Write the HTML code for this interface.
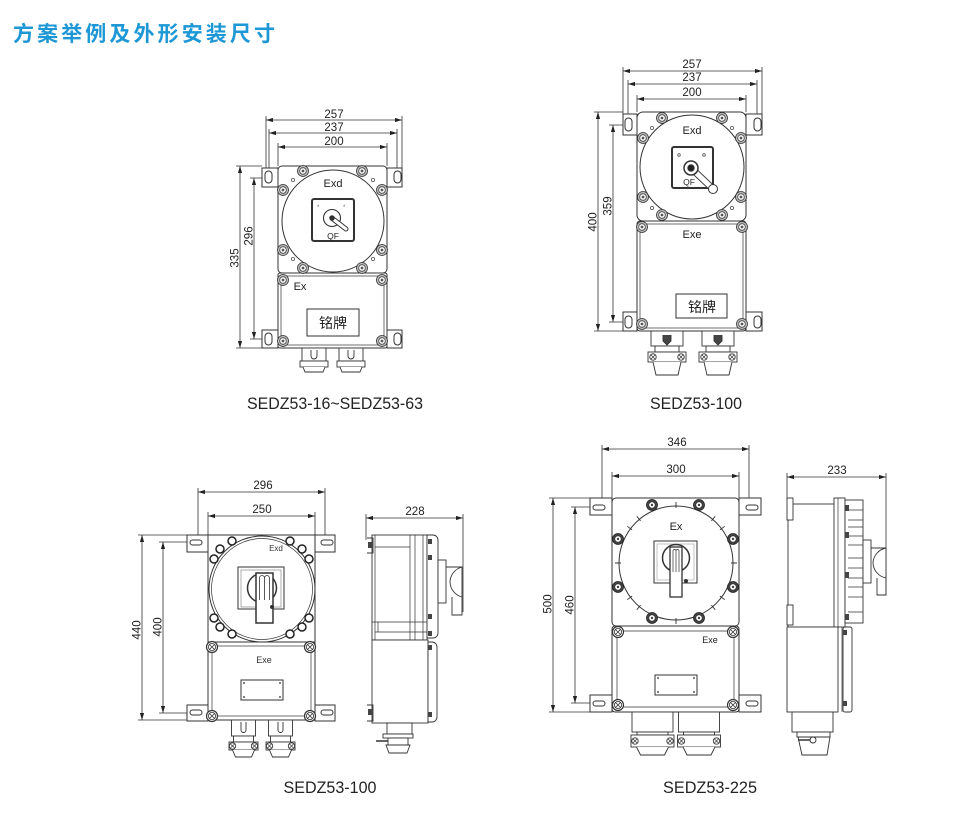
<!DOCTYPE html>
<html><head><meta charset="utf-8">
<style>
html,body{margin:0;padding:0;background:#fff;}
svg{display:block;}
</style></head><body>
<svg width="977" height="821" viewBox="0 0 977 821" xmlns="http://www.w3.org/2000/svg" font-family="'Liberation Sans', Arial, sans-serif">
<defs>
<marker id="ar" viewBox="0 0 10 6" refX="10" refY="3" markerWidth="7" markerHeight="4.2" markerUnits="userSpaceOnUse" orient="auto-start-reverse"><path d="M0,0L10,3L0,6z" fill="#222"/></marker>
<g id="b1"><circle r="5.5" fill="#bdbdbd" stroke="#333" stroke-width="0.8"/><circle r="3.3" fill="#fff" stroke="#444" stroke-width="0.8"/><circle r="1.4" fill="#555"/></g>
<g id="b2"><circle r="4" fill="#fff" stroke="#222" stroke-width="1.5"/></g>
<g id="b3"><circle r="5.5" fill="#fff" stroke="#333" stroke-width="1.2"/><circle r="3.6" fill="#fff" stroke="#333" stroke-width="0.8"/><path d="M-2.5,-2.5L2.5,2.5M-2.5,2.5L2.5,-2.5" stroke="#333" stroke-width="0.8"/></g>
<g id="b4"><circle r="5.5" fill="#444" stroke="#222" stroke-width="0.8"/><circle r="3.2" fill="#fff" stroke="#222" stroke-width="0.6"/><circle r="1.2" fill="#444"/></g>
<g id="sc"><circle r="3.2" fill="#fff" stroke="#333" stroke-width="0.9"/><path d="M-2,-2L2,2M-2,2L2,-2" stroke="#333" stroke-width="0.7"/></g>
<g id="g1" fill="#fff" stroke="#333" stroke-width="0.9">
 <rect x="-12" y="0" width="24" height="13"/>
 <path d="M-3,2v6a3,3 0 0 0 6,0v-6"/>
 <rect x="-14" y="13" width="28" height="6"/>
 <path d="M-11,19L-9,24H9L11,19"/>
</g>
<g id="g2" fill="#fff" stroke="#333" stroke-width="0.9">
 <rect x="-16" y="0" width="32" height="15"/>
 <path d="M-4,4v6l4,4l4,-4v-6" fill="#444"/>
 <rect x="-12" y="15" width="24" height="6"/>
 <rect x="-19" y="21" width="38" height="10"/>
 <path d="M-14,31L-11,44H11L14,31"/>
</g>
<g id="g3" fill="#fff" stroke="#333" stroke-width="0.9">
 <rect x="-12" y="0" width="24" height="16"/>
 <path d="M-2.5,2v8a2.5,2.5 0 0 0 5,0v-8"/>
 <rect x="-10" y="16" width="20" height="6"/>
 <rect x="-14.5" y="22" width="29" height="8"/>
 <path d="M-11,30L-8,37H8L11,30"/>
</g>
<g id="g5" fill="#fff" stroke="#333" stroke-width="0.9">
 <rect x="-20.5" y="0" width="41" height="20"/>
 <rect x="-15.5" y="20" width="31" height="3"/>
 <rect x="-21.5" y="23" width="43" height="12"/>
 <path d="M-16,35L-12,43H12L16,35"/>
</g>
</defs>

<!-- Title -->
<text x="13" y="41" font-family="'Liberation Sans','Noto Sans CJK SC',sans-serif" font-weight="bold" font-size="21" fill="#1d97d5" textLength="262" lengthAdjust="spacing">方案举例及外形安装尺寸</text>

<!-- ================= D1 ================= -->
<g stroke="#333" stroke-width="0.8" fill="none">
 <path d="M266,116V176M402,116V176M269,129V172M397,129V172M278,143V166M387,143V166"/>
 <path d="M236,166H262M236,348H278M250,178H266M250,339H266"/>
 <line x1="266" y1="120" x2="402" y2="120" marker-start="url(#ar)" marker-end="url(#ar)"/>
 <line x1="269" y1="133" x2="397" y2="133" marker-start="url(#ar)" marker-end="url(#ar)"/>
 <line x1="278" y1="147" x2="387" y2="147" marker-start="url(#ar)" marker-end="url(#ar)"/>
 <line x1="240" y1="166" x2="240" y2="348" marker-start="url(#ar)" marker-end="url(#ar)"/>
 <line x1="254" y1="178" x2="254" y2="339" marker-start="url(#ar)" marker-end="url(#ar)"/>
</g>
<g font-size="11.5" fill="#222" text-anchor="middle">
 <text x="334" y="118">257</text>
 <text x="334" y="131">237</text>
 <text x="334" y="145">200</text>
 <text transform="translate(238.5,258) rotate(-90)">335</text>
 <text transform="translate(252.5,236) rotate(-90)">296</text>
</g>
<g stroke="#333" stroke-width="1" fill="#fff">
 <rect x="262" y="168" width="16" height="19"/>
 <rect x="387" y="168" width="15" height="19"/>
 <rect x="262" y="330" width="16" height="18"/>
 <rect x="387" y="330" width="15" height="18"/>
 <rect x="265" y="171" width="7" height="12" rx="3.5"/>
 <rect x="394" y="171" width="7" height="12" rx="3.5"/>
 <rect x="265" y="333" width="7" height="12" rx="3.5"/>
 <rect x="394" y="333" width="7" height="12" rx="3.5"/>
 <rect x="278" y="166" width="109" height="107" rx="4"/>
 <rect x="278" y="273" width="109" height="75" rx="2"/>
 <rect x="281" y="276" width="103" height="69" stroke-width="0.7"/>
 <circle cx="333" cy="221" r="51"/>
 <rect x="312" y="199" width="42" height="42" rx="2" stroke-width="2"/>
 <rect x="307" y="309" width="52" height="27"/>
</g>
<g>
 <use href="#b1" x="303" y="171"/><use href="#b1" x="362" y="171"/>
 <use href="#b1" x="283" y="190"/><use href="#b1" x="382" y="190"/>
 <use href="#b1" x="283" y="250"/><use href="#b1" x="382" y="250"/>
 <use href="#b1" x="303" y="268"/><use href="#b1" x="362" y="268"/>
 <use href="#b1" x="283" y="280"/><use href="#b1" x="382" y="280"/>
 <use href="#b1" x="283" y="341"/><use href="#b1" x="382" y="341"/>
</g>
<g fill="#fff" stroke="#555" stroke-width="0.8">
 <circle cx="293" cy="180" r="1.6"/><circle cx="373" cy="180" r="1.6"/>
 <circle cx="293" cy="259" r="1.6"/><circle cx="373" cy="259" r="1.6"/>
</g>
<g fill="#fff" stroke="#333" stroke-width="1.1">
 <circle cx="332" cy="218" r="8.5"/>
 <line x1="333" y1="219" x2="346" y2="229" stroke-width="5" stroke-linecap="round"/>
 <line x1="333" y1="219" x2="346" y2="229" stroke="#fff" stroke-width="3" stroke-linecap="round"/>
 <circle cx="332" cy="218" r="2.2" fill="#333"/>
</g>
<g fill="#666" font-size="6"><text x="317" y="209">*</text><text x="343" y="209">*</text></g>
<g fill="#222" text-anchor="middle">
 <text x="333" y="239" font-size="8.5">QF</text>
 <text x="333" y="187" font-size="11">Exd</text>
 <text x="300" y="290" font-size="11">Ex</text>
 <text x="333" y="328" font-size="14" font-family="'Liberation Sans','Noto Sans CJK SC',sans-serif">铭牌</text>
</g>
<use href="#g1" x="314" y="348"/><use href="#g1" x="351" y="348"/>
<text x="335" y="409" font-size="17" fill="#222" text-anchor="middle" textLength="176" lengthAdjust="spacingAndGlyphs">SEDZ53-16~SEDZ53-63</text>

<!-- ================= D2 ================= -->
<g stroke="#333" stroke-width="0.8" fill="none">
 <path d="M623,67V114M762,67V114M628,80V118M757,80V118M637,95V112M746,95V112"/>
 <path d="M594,112H623M594,331H637M609,125H625M609,322H625"/>
 <line x1="623" y1="71" x2="762" y2="71" marker-start="url(#ar)" marker-end="url(#ar)"/>
 <line x1="628" y1="84" x2="757" y2="84" marker-start="url(#ar)" marker-end="url(#ar)"/>
 <line x1="637" y1="99" x2="746" y2="99" marker-start="url(#ar)" marker-end="url(#ar)"/>
 <line x1="598" y1="112" x2="598" y2="331" marker-start="url(#ar)" marker-end="url(#ar)"/>
 <line x1="613" y1="125" x2="613" y2="322" marker-start="url(#ar)" marker-end="url(#ar)"/>
</g>
<g font-size="11.5" fill="#222" text-anchor="middle">
 <text x="692" y="68">257</text>
 <text x="692" y="81">237</text>
 <text x="692" y="96">200</text>
 <text transform="translate(596.5,222) rotate(-90)">400</text>
 <text transform="translate(611.5,206) rotate(-90)">359</text>
</g>
<g stroke="#333" stroke-width="1" fill="#fff">
 <rect x="623" y="114" width="14" height="21"/>
 <rect x="746" y="114" width="16" height="21"/>
 <rect x="623" y="312" width="14" height="19"/>
 <rect x="746" y="312" width="16" height="19"/>
 <rect x="625" y="118" width="7" height="13" rx="3.5"/>
 <rect x="754" y="118" width="7" height="13" rx="3.5"/>
 <rect x="625" y="316" width="7" height="12" rx="3.5"/>
 <rect x="754" y="316" width="7" height="12" rx="3.5"/>
 <rect x="637" y="112" width="109" height="109" rx="6"/>
 <rect x="637" y="221" width="109" height="110" rx="3"/>
 <rect x="640" y="224" width="103" height="104" stroke-width="0.7"/>
 <circle cx="692" cy="167" r="52"/>
 <rect x="672" y="147" width="41" height="41" rx="2" stroke-width="2"/>
 <rect x="676" y="294" width="51" height="24"/>
</g>
<g>
 <use href="#b1" x="662" y="118"/><use href="#b1" x="722" y="118"/>
 <use href="#b1" x="643" y="138"/><use href="#b1" x="741" y="138"/>
 <use href="#b1" x="643" y="197"/><use href="#b1" x="741" y="197"/>
 <use href="#b1" x="662" y="215"/><use href="#b1" x="722" y="215"/>
 <use href="#b1" x="642" y="227"/><use href="#b1" x="742" y="227"/>
 <use href="#b1" x="642" y="324"/><use href="#b1" x="742" y="324"/>
</g>
<g fill="#fff" stroke="#555" stroke-width="0.8">
 <circle cx="652" cy="128" r="1.6"/><circle cx="732" cy="128" r="1.6"/>
 <circle cx="652" cy="208" r="1.6"/><circle cx="732" cy="208" r="1.6"/>
 <circle cx="679" cy="155" r="1.3"/><circle cx="704" cy="155" r="1.3"/>
</g>
<g stroke="#333">
 <line x1="692" y1="169" x2="711" y2="187" stroke-width="7" stroke-linecap="round"/>
 <line x1="692" y1="169" x2="711" y2="187" stroke="#fff" stroke-width="5" stroke-linecap="round"/>
 <circle cx="713" cy="189" r="4.5" fill="#fff" stroke-width="1"/>
 <circle cx="691" cy="168" r="7" fill="#fff" stroke-width="1.5"/>
 <circle cx="691" cy="168" r="3.2" fill="#222"/>
</g>
<g fill="#222" text-anchor="middle">
 <text x="689" y="185" font-size="8.5">QF</text>
 <text x="692" y="134" font-size="11">Exd</text>
 <text x="692" y="238" font-size="11">Exe</text>
 <text x="702" y="312" font-size="14" font-family="'Liberation Sans','Noto Sans CJK SC',sans-serif">铭牌</text>
</g>
<use href="#g2" x="667" y="331"/><use href="#g2" x="718" y="331"/>
<use href="#sc" x="653" y="357"/><use href="#sc" x="681" y="357"/>
<use href="#sc" x="704" y="357"/><use href="#sc" x="732" y="357"/>
<text x="696" y="409" font-size="17" fill="#222" text-anchor="middle" textLength="92" lengthAdjust="spacingAndGlyphs">SEDZ53-100</text>

<!-- ================= D3 ================= -->
<g stroke="#333" stroke-width="0.8" fill="none">
 <path d="M198,488V543M325,488V543M208,512V535M315,512V535"/>
 <path d="M138,535H187M138,720H208M159,542H192M159,713H192"/>
 <line x1="198" y1="492" x2="325" y2="492" marker-start="url(#ar)" marker-end="url(#ar)"/>
 <line x1="208" y1="516" x2="315" y2="516" marker-start="url(#ar)" marker-end="url(#ar)"/>
 <line x1="142" y1="535" x2="142" y2="720" marker-start="url(#ar)" marker-end="url(#ar)"/>
 <line x1="163" y1="542" x2="163" y2="713" marker-start="url(#ar)" marker-end="url(#ar)"/>
</g>
<g font-size="11.5" fill="#222" text-anchor="middle">
 <text x="263" y="489">296</text>
 <text x="262" y="513">250</text>
 <text transform="translate(140.5,630) rotate(-90)">440</text>
 <text transform="translate(161.5,627) rotate(-90)">400</text>
</g>
<g stroke="#333" stroke-width="1" fill="#fff">
 <rect x="187" y="535" width="21" height="17"/>
 <rect x="315" y="535" width="20" height="17"/>
 <rect x="187" y="705" width="21" height="16"/>
 <rect x="315" y="705" width="20" height="16"/>
 <rect x="190" y="540" width="12" height="5" rx="2.5"/>
 <rect x="321" y="540" width="12" height="5" rx="2.5"/>
 <rect x="190" y="710" width="12" height="5" rx="2.5"/>
 <rect x="321" y="710" width="12" height="5" rx="2.5"/>
 <rect x="208" y="535" width="107" height="107"/>
 <rect x="208" y="642" width="107" height="78"/>
 <rect x="212" y="646" width="99" height="70" stroke-width="0.7"/>
 <circle cx="262" cy="589" r="53"/>
 <circle cx="262" cy="589" r="50.5" stroke-width="0.7"/>
 <rect x="238" y="567" width="46" height="42"/>
 <rect x="241" y="570" width="40" height="37" stroke="#999" stroke-width="0.8"/>
 <circle cx="262" cy="588" r="14.5" stroke-width="1.5"/>
 <rect x="256" y="573" width="17" height="50" stroke-width="1.5"/>
 <path d="M259.5,600V578a2.5,2.5 0 0 1 5,0V600M264.5,600V578a2.5,2.5 0 0 1 5,0V600" stroke-width="0.8"/>
 <rect x="241" y="680" width="42" height="20"/>
</g>
<circle cx="272" cy="607" r="2" fill="#333"/>
<g fill="#555"><circle cx="244" cy="683" r="1"/><circle cx="280" cy="683" r="1"/><circle cx="244" cy="697" r="1"/><circle cx="280" cy="697" r="1"/></g>
<g>
 <use href="#b2" x="232" y="541"/><use href="#b2" x="290" y="541"/>
 <use href="#b2" x="220" y="549"/><use href="#b2" x="302" y="549"/>
 <use href="#b2" x="214" y="559"/><use href="#b2" x="309" y="559"/>
 <use href="#b2" x="214" y="618"/><use href="#b2" x="309" y="618"/>
 <use href="#b2" x="220" y="627"/><use href="#b2" x="302" y="627"/>
 <use href="#b2" x="232" y="634"/><use href="#b2" x="290" y="634"/>
 <use href="#b3" x="212" y="647"/><use href="#b3" x="310" y="647"/>
 <use href="#b3" x="212" y="716"/><use href="#b3" x="310" y="716"/>
</g>
<g fill="#333" text-anchor="middle">
 <text x="276" y="551" font-size="8">Exd</text>
 <text x="264" y="663" font-size="9">Exe</text>
</g>
<use href="#g3" x="243.5" y="720"/><use href="#g3" x="280.5" y="720"/>
<use href="#sc" x="232.5" y="746"/><use href="#sc" x="254.5" y="746"/>
<use href="#sc" x="269.5" y="746"/><use href="#sc" x="291.5" y="746"/>
<text x="330" y="793" font-size="17" fill="#222" text-anchor="middle" textLength="93" lengthAdjust="spacingAndGlyphs">SEDZ53-100</text>

<!-- ================= D4 side ================= -->
<g stroke="#333" stroke-width="0.8" fill="none">
 <path d="M366,514V540M463,514V612"/>
 <line x1="366" y1="518" x2="463" y2="518" marker-start="url(#ar)" marker-end="url(#ar)"/>
</g>
<text x="415" y="515" font-size="11.5" fill="#222" text-anchor="middle">228</text>
<g stroke="#333" stroke-width="0.9" fill="#fff">
 <rect x="372" y="535" width="55" height="105"/>
 <path d="M375,547H410M375,622H427M375,632H427M375,535V640M410,535V640M415,535V640M423,535V640M372,622H378V632" fill="none" stroke-width="0.7"/>
 <path d="M427,535H433a5,5 0 0 1 5,5V633a5,5 0 0 1 -5,5H427Z"/>
 <rect x="438" y="560" width="8" height="43"/>
 <path d="M462,567a16,16 0 0 0 -12,15a16,16 0 0 0 12,15" />
 <path d="M446,567H462V615H452V597" fill="none"/>
 <rect x="372" y="640" width="56" height="83"/>
 <path d="M428,642H432a5,5 0 0 1 5,5V717a5,5 0 0 1 -5,5H428Z"/>
 <path d="M367,538H373V553H367M367,705H373V721H367" fill="none"/>
 <rect x="387" y="723" width="25" height="11"/>
 <rect x="383" y="734" width="30" height="4"/>
 <rect x="388" y="738" width="20" height="7"/>
 <path d="M386,745L389,753H407L410,745Z"/>
 <path d="M376,741H388" stroke-width="1.5"/>
</g>
<g fill="#444">
 <rect x="428" y="539" width="4" height="5"/><rect x="428" y="555" width="4" height="5"/>
 <rect x="428" y="614" width="4" height="5"/><rect x="428" y="631" width="4" height="5"/>
 <rect x="428" y="645" width="4" height="5"/><rect x="428" y="712" width="4" height="5"/>
 <rect x="368" y="542" width="4" height="6"/><rect x="368" y="709" width="4" height="6"/>
</g>

<!-- ================= D5 ================= -->
<g stroke="#333" stroke-width="0.8" fill="none">
 <path d="M602,445V505M749,445V505M612,472V498M739,472V498"/>
 <path d="M549,498H590M549,712H612M571,507H597M571,703H597"/>
 <line x1="602" y1="449" x2="749" y2="449" marker-start="url(#ar)" marker-end="url(#ar)"/>
 <line x1="612" y1="476" x2="739" y2="476" marker-start="url(#ar)" marker-end="url(#ar)"/>
 <line x1="553" y1="498" x2="553" y2="712" marker-start="url(#ar)" marker-end="url(#ar)"/>
 <line x1="575" y1="507" x2="575" y2="703" marker-start="url(#ar)" marker-end="url(#ar)"/>
</g>
<g font-size="11.5" fill="#222" text-anchor="middle">
 <text x="677" y="446">346</text>
 <text x="676" y="473">300</text>
 <text transform="translate(551.5,604) rotate(-90)">500</text>
 <text transform="translate(573.5,605) rotate(-90)">460</text>
</g>
<g stroke="#333" stroke-width="1" fill="#fff">
 <rect x="590" y="498" width="22" height="17"/>
 <rect x="739" y="498" width="22" height="17"/>
 <rect x="590" y="695" width="22" height="17"/>
 <rect x="739" y="695" width="22" height="17"/>
 <rect x="593" y="505" width="12" height="5" rx="2.5"/>
 <rect x="746" y="505" width="12" height="5" rx="2.5"/>
 <rect x="593" y="701" width="12" height="5" rx="2.5"/>
 <rect x="746" y="701" width="12" height="5" rx="2.5"/>
 <rect x="612" y="498" width="127" height="128" rx="4"/>
 <rect x="612" y="626" width="127" height="86" rx="3"/>
 <rect x="617" y="631" width="117" height="76" rx="2" stroke-width="0.7"/>
 <circle cx="676" cy="563" r="57"/>
 <rect x="654" y="541" width="43" height="42"/>
 <rect x="657" y="544" width="37" height="36" stroke="#aaa" stroke-width="0.7"/>
 <circle cx="676" cy="558" r="13.5" stroke-width="1.5"/>
 <rect x="670" y="547" width="12" height="50" stroke-width="1.3"/>
 <path d="M673,572V551a1.5,1.5 0 0 1 3,0V572M676,572V551a1.5,1.5 0 0 1 3,0V572" stroke-width="0.7"/>
 <rect x="655" y="675" width="42" height="20"/>
</g>
<circle cx="686" cy="581" r="2" fill="#333"/>
<g fill="#555"><circle cx="658" cy="678" r="1"/><circle cx="694" cy="678" r="1"/><circle cx="658" cy="692" r="1"/><circle cx="694" cy="692" r="1"/></g>
<g stroke="#333" stroke-width="0.9">
 <path d="M676,508V502M640.6,520.9L636.8,516.3M632.1,529.9L627.3,526.3M621,563H615M632.1,596.1L627.3,599.7M640.6,605.1L636.8,609.7M676,618V624M711.4,605.1L715.2,609.7M719.9,596.1L724.7,599.7M731,563H737M719.9,529.9L724.7,526.3M711.4,520.9L715.2,516.3"/>
</g>
<g>
 <use href="#b4" x="652" y="505"/><use href="#b4" x="699" y="505"/>
 <use href="#b4" x="618" y="539"/><use href="#b4" x="733" y="539"/>
 <use href="#b4" x="618" y="587"/><use href="#b4" x="733" y="587"/>
 <use href="#b4" x="652" y="618"/><use href="#b4" x="699" y="618"/>
 <use href="#b3" x="618" y="632"/><use href="#b3" x="733" y="632"/>
 <use href="#b3" x="618" y="705"/><use href="#b3" x="733" y="705"/>
</g>
<g fill="#222" text-anchor="middle">
 <text x="676" y="530" font-size="11">Ex</text>
 <text x="710" y="643" font-size="9">Exe</text>
</g>
<use href="#g5" x="652.5" y="712"/><use href="#g5" x="699" y="712"/>
<use href="#sc" x="635" y="741"/><use href="#sc" x="670" y="741"/>
<use href="#sc" x="681.5" y="741"/><use href="#sc" x="716.5" y="741"/>
<text x="710" y="793" font-size="17" fill="#222" text-anchor="middle" textLength="94" lengthAdjust="spacingAndGlyphs">SEDZ53-225</text>

<!-- ================= D6 side ================= -->
<g stroke="#333" stroke-width="0.8" fill="none">
 <path d="M787,473V500M886,473V595"/>
 <line x1="787" y1="477" x2="886" y2="477" marker-start="url(#ar)" marker-end="url(#ar)"/>
</g>
<text x="837" y="474" font-size="11.5" fill="#222" text-anchor="middle">233</text>
<g stroke="#333" stroke-width="0.9" fill="#fff">
 <rect x="788" y="504" width="47" height="123"/>
 <rect x="787" y="498" width="6" height="22"/>
 <rect x="787" y="605" width="6" height="20"/>
 <rect x="834" y="498" width="11" height="129"/>
 <path d="M838,498V627" fill="none" stroke-width="0.7"/>
 <rect x="845" y="500" width="18" height="123"/>
 <path d="M848,510H863M848,520H863M848,527H863M848,536H863M848,545H863M848,558H863M848,568H863M848,578H863M848,587H863M848,597H863M848,612H863" fill="none" stroke-width="0.7"/>
 <rect x="863" y="540" width="8" height="43"/>
 <path d="M886,548a16,16 0 0 0 -13,15a16,16 0 0 0 13,15" />
 <path d="M871,548H886V595H877V578" fill="none"/>
 <rect x="787" y="627" width="51" height="85"/>
 <path d="M842,627V712" fill="none" stroke-width="0.7"/>
 <rect x="843" y="627" width="9" height="85" rx="2"/>
 <rect x="792" y="712" width="41" height="20"/>
 <rect x="797" y="732" width="33" height="5"/>
 <path d="M798,737L802,755H827L830,737Z"/>
 <path d="M798,740H812" stroke-width="1.5"/>
 <circle cx="813" cy="740" r="3"/>
</g>
<g fill="#444">
 <rect x="845" y="505" width="4" height="6"/><rect x="845" y="532" width="4" height="6"/>
 <rect x="845" y="572" width="4" height="6"/><rect x="845" y="614" width="4" height="6"/>
 <rect x="843" y="630" width="4" height="5"/><rect x="843" y="701" width="4" height="5"/>
</g>
</svg>
</body></html>
